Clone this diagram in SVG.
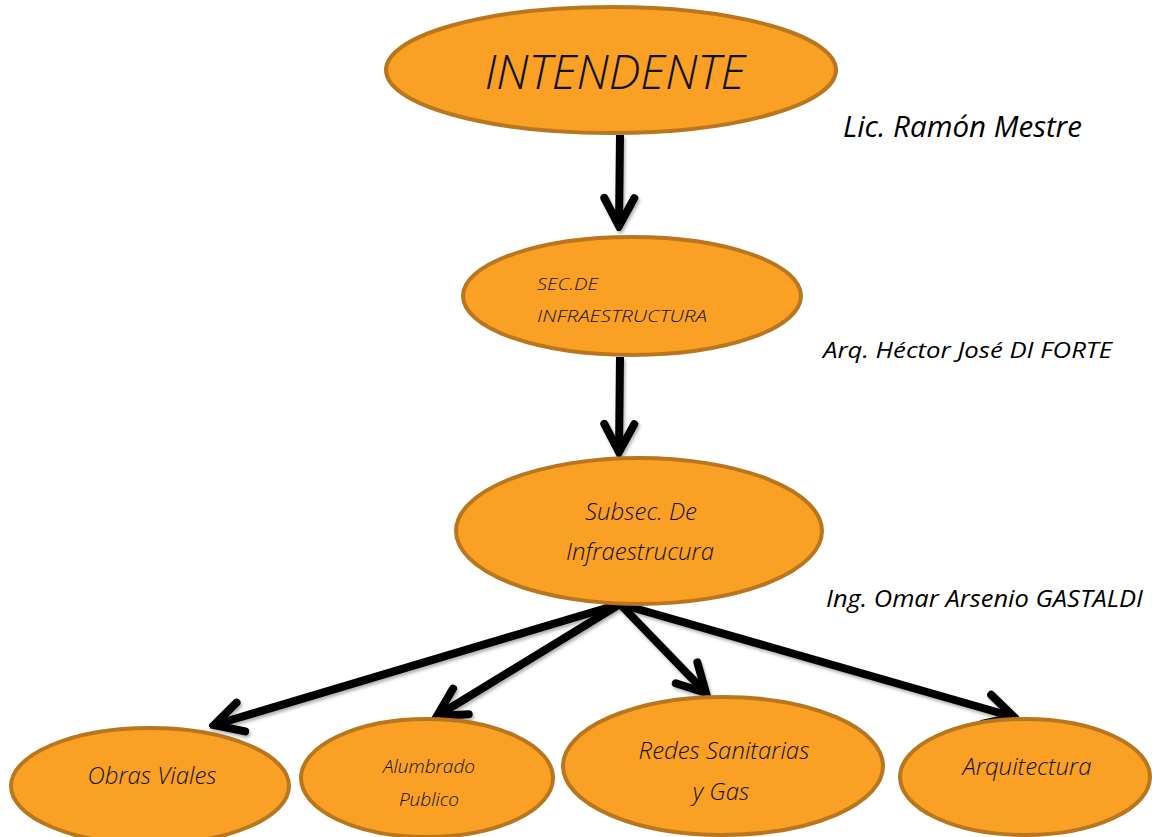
<svg xmlns="http://www.w3.org/2000/svg" width="1152" height="837" viewBox="0 0 1152 837">
<style>
.node{fill:#F9A025;stroke:#B8771F;stroke-width:4}
.t{font-family:"Open Sans","Noto Sans","DejaVu Sans",sans-serif;font-style:italic;font-weight:300;fill:#111}
.lbl{font-family:"Open Sans","Noto Sans","DejaVu Sans",sans-serif;font-style:italic;font-weight:400;fill:#000}
.c{fill:none;stroke:#000;stroke-width:8;stroke-linecap:butt}
</style>
<defs>
<marker id="ah" markerUnits="userSpaceOnUse" viewBox="-40 -20 45 40" refX="0" refY="0" markerWidth="45" markerHeight="40" orient="auto">
<path d="M-28,-15 L0,0 L-28,15" fill="none" stroke="#000" stroke-width="8" stroke-linecap="round" stroke-linejoin="miter"/>
</marker>
<filter id="sh" x="-10%" y="-10%" width="120%" height="130%">
<feDropShadow dx="1.5" dy="2.5" stdDeviation="1.5" flood-color="#000" flood-opacity="0.3"/>
</filter>
</defs>
<g id="connectors" filter="url(#sh)">
<line class="c" x1="620" y1="135" x2="619" y2="226" marker-end="url(#ah)"/>
<line class="c" x1="620" y1="357" x2="619" y2="452" marker-end="url(#ah)"/>
<line class="c" x1="620" y1="604" x2="214" y2="725" marker-end="url(#ah)"/>
<line class="c" x1="620" y1="604" x2="437" y2="716" marker-end="url(#ah)"/>
<line class="c" x1="620" y1="604" x2="706" y2="693" marker-end="url(#ah)"/>
<line class="c" x1="620" y1="604" x2="1014" y2="717" marker-end="url(#ah)"/>
</g>
<g id="intendente">
<ellipse class="node" cx="611" cy="70" rx="225" ry="63"/>
<text class="t" x="615" y="89" font-size="47" text-anchor="middle">INTENDENTE</text>
</g>
<g id="sec">
<ellipse class="node" cx="632" cy="296" rx="169" ry="59"/>
<text class="t" x="537" y="290" font-size="17" textLength="61" lengthAdjust="spacingAndGlyphs">SEC.DE</text>
<text class="t" x="537" y="322" font-size="17" textLength="170" lengthAdjust="spacingAndGlyphs">INFRAESTRUCTURA</text>
</g>
<g id="subsec">
<ellipse class="node" cx="639" cy="531" rx="183" ry="73"/>
<text class="t" x="641" y="520" font-size="24" text-anchor="middle">Subsec. De</text>
<text class="t" x="640" y="560" font-size="24" text-anchor="middle">Infraestrucura</text>
</g>
<g id="obras">
<ellipse class="node" cx="150" cy="786" rx="139" ry="58"/>
<text class="t" x="152" y="784" font-size="24" text-anchor="middle">Obras Viales</text>
</g>
<g id="alumbrado">
<ellipse class="node" cx="427" cy="778" rx="126" ry="59"/>
<text class="t" x="429" y="773" font-size="19" text-anchor="middle">Alumbrado</text>
<text class="t" x="429" y="806" font-size="19" text-anchor="middle">Publico</text>
</g>
<g id="redes">
<ellipse class="node" cx="723" cy="766" rx="160" ry="69"/>
<text class="t" x="724" y="759" font-size="24" text-anchor="middle">Redes Sanitarias</text>
<text class="t" x="721" y="800" font-size="24" text-anchor="middle">y Gas</text>
</g>
<g id="arquitectura">
<ellipse class="node" cx="1025" cy="777" rx="125" ry="58"/>
<text class="t" x="1027" y="775" font-size="24" text-anchor="middle">Arquitectura</text>
</g>
<g id="labels">
<text class="lbl" x="843" y="137" font-size="29" textLength="239" lengthAdjust="spacingAndGlyphs">Lic. Ramón Mestre</text>
<text class="lbl" x="823" y="358" font-size="22" textLength="289" lengthAdjust="spacingAndGlyphs">Arq. Héctor José DI FORTE</text>
<text class="lbl" x="826" y="607" font-size="23" textLength="317" lengthAdjust="spacingAndGlyphs">Ing. Omar Arsenio GASTALDI</text>
</g>
</svg>
